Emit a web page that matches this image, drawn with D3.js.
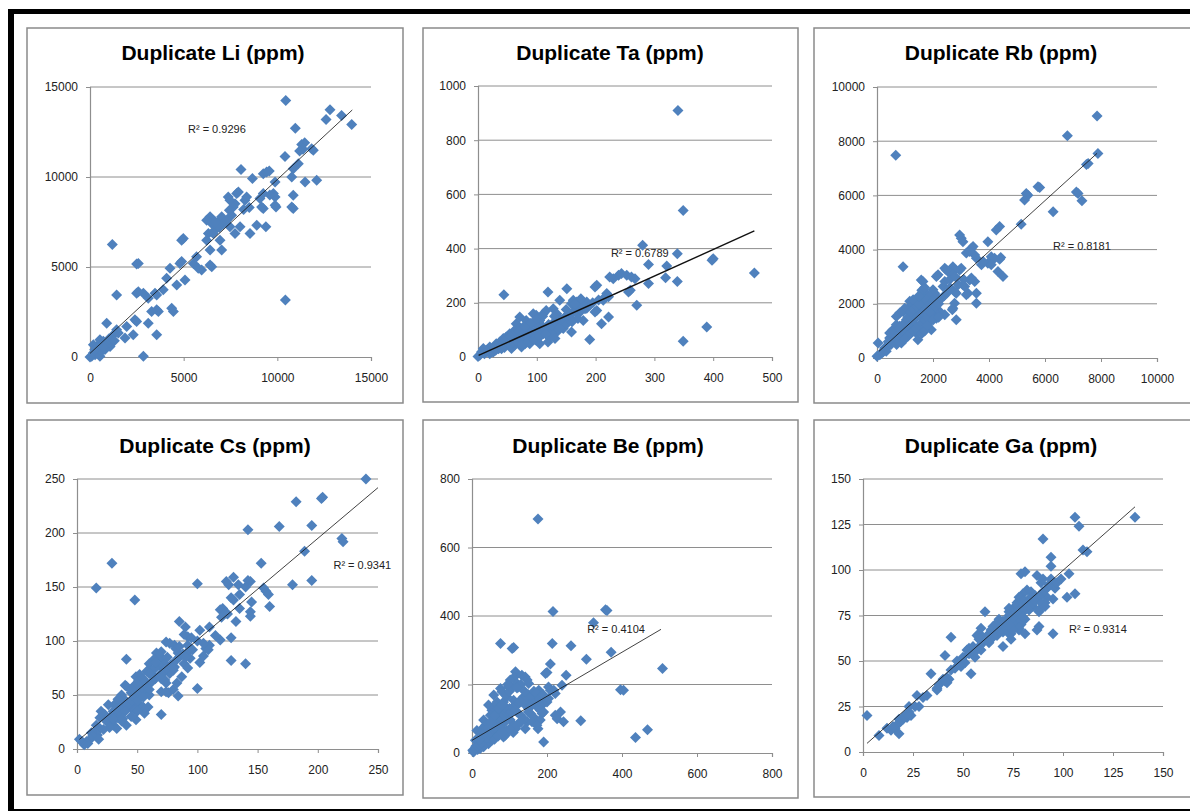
<!DOCTYPE html>
<html>
<head>
<meta charset="utf-8">
<script src="https://cdn.jsdelivr.net/npm/d3@7"></script>
<style>
  body { margin: 0; background: #fff; }
  svg { display: block; }
</style>
</head>
<body>
<div id="chart"></div>
<script>
// ---- data ----
const titles = ["Duplicate Li (ppm)", "Duplicate Ta (ppm)", "Duplicate Rb (ppm)",
                "Duplicate Cs (ppm)", "Duplicate Be (ppm)", "Duplicate Ga (ppm)"];
const r2Labels = ["R² = 0.9296", "R² = 0.6789", "R² = 0.8181", "R² = 0.9341", "R² = 0.4104", "R² = 0.9314"];

const liTicks = [0, 5000, 10000, 15000];
const taXTicks = [0, 100, 200, 300, 400, 500];
const taYTicks = [0, 200, 400, 600, 800, 1000];
const rbTicks = [0, 2000, 4000, 6000, 8000, 10000];
const csTicks = [0, 50, 100, 150, 200, 250];
const beTicks = [0, 200, 400, 600, 800];
const gaTicks = [0, 25, 50, 75, 100, 125, 150];

// trendline: [slope, intercept, xStart, xEnd]
const liTrend = [0.966, 200, 0, 14000];
const taTrend = [0.979, 5, 1, 470];
const rbTrend = [0.938, 180, 70, 7860];
const csTrend = [0.94, 7, 2, 250];
const beTrend = [0.643, 37, 0, 504];
const gaTrend = [0.97, 2.8, 2, 136];

// R² label anchors (data units)
const r2Pos = [[5230, 12610], [226, 380], [6286, 4096], [213, 169], [307, 359], [103, 67]];

const liPoints = [[10450,14250],[12810,13730],[13430,13410],[12600,13190],[13970,12920],[10960,12710],
 [11300,11800],[11460,11900],[11370,11540],[11190,11450],[11830,11570],[11920,11480],[10410,11140],
 [11120,10740],[10850,10460],[10770,10000],[8060,10410],[8670,9910],[9250,10180],[9430,10280],[9570,10330],
 [9880,9720],[11480,9720],[12100,9820],[10850,8990],[10850,8250],[10770,8340],[9790,9080],[9880,8890],
 [9250,9080],[9070,8800],[9250,8250],[9160,8340],[9930,8340],[9880,8430],[8900,7320],[9390,7230],[8540,6860],
 [8360,8890],[8270,8710],[7830,9080],[7920,9170],[7740,8520],[7650,8340],[7380,8890],[7470,8710],[7440,8150],
 [7560,7880],[8010,7230],[7740,6860],[7470,7230],[6940,7600],[7030,7790],[7120,7420],[6410,7790],[6580,7600],
 [6500,7420],[6230,7600],[6670,7050],[6320,6860],[6580,6860],[6940,6490],[7030,5940],[6230,6490],[6410,5940],
 [6500,5020],[6410,5110],[5960,4830],[5780,4930],[5520,5200],[5690,5570],[4980,6590],[4890,6490],[4890,5300],
 [4800,5200],[5070,4280],[4270,4930],[4630,4000],[4090,4370],[3910,3730],[4360,2710],[4450,2530],[3560,2620],
 [3650,2530],[3290,2530],[3470,3540],[3560,3450],[3110,3270],[2850,3540],[2490,3540],[2580,3630],[2490,5170],
 [2580,5200],[1420,3450],[1190,6250],[3110,1880],[3560,1240],[2850,40],[2310,1240],[2400,2070],[2490,1970],
 [1960,1700],[1870,1050],[890,1880],[1510,1330],[1420,1510],[1250,1240],[1160,960],[980,770],[1070,590],
 [710,870],[530,960],[620,680],[360,590],[180,680],[530,500],[440,220],[90,40],[270,130],[0,0],[180,220],
 [360,310],[890,680],[800,410],[530,40],[10430,3170],[600,300],[700,550],[1000,1000],[1300,900],[250,400],
 [6900,7200],[6700,7500],[7300,7600],[8200,8200],[8500,8300],[9600,9000]];

const taPoints = [[340,910],[349,541],[280,412],[339,381],[400,363],[398,357],[470,310],[290,341],[321,336],
 [339,279],[319,292],[290,271],[270,191],[389,111],[349,58],[239,302],[244,308],[253,302],[261,295],[267,289],
 [230,289],[224,295],[259,246],[256,240],[199,258],[202,265],[219,234],[222,222],[213,209],[222,148],[210,123],
 [202,172],[199,166],[119,240],[151,252],[44,230],[128,178],[139,209],[162,209],[168,203],[159,197],[173,197],
 [165,185],[185,203],[190,191],[182,178],[176,172],[170,160],[156,160],[151,154],[179,135],[170,142],[159,92],
 [190,65],[119,55],[122,74],[134,135],[139,123],[128,111],[134,92],[145,105],[105,135],[99,154],[94,160],
 [108,117],[97,123],[116,98],[111,86],[82,135],[88,123],[77,111],[91,98],[85,86],[65,123],[71,105],[62,98],
 [68,86],[60,74],[54,86],[48,74],[51,62],[43,68],[37,55],[31,49],[34,37],[26,31],[20,37],[14,25],[9,31],
 [6,18],[11,12],[3,6],[0,2],[20,12],[26,18],[74,37],[80,49],[94,74],[99,62],[105,49],[88,49],[57,31],[62,43],
 [111,160],[116,172],[71,148],[134,160],[125,86],[131,68],
 [30,25],[35,30],[40,45],[45,35],[50,50],[55,45],[60,55],[65,60],[70,70],[75,65],[80,80],[85,75],[90,90],
 [95,85],[100,100],[105,95],[110,110],[115,105],[120,120],[125,115],[130,130],[140,140],[145,135],[150,150],
 [155,145],[160,160],[165,170],[170,180],[175,175],[180,190],[185,180],[195,200],[205,210],[215,220],[60,80],
 [70,95],[80,110],[90,125],[100,140],[110,150],[75,45],[85,55],[95,65],[105,75],[115,85],[45,60],[55,75],
 [40,30],[30,40],[25,20],[140,110],[150,120],[160,130],[165,195],[175,215],[150,175],[130,150]];

const rbPoints = [[7860,8930],[6800,8200],[670,7480],[7890,7550],[7540,7180],[7480,7140],[7120,6130],
 [7180,6070],[7320,5800],[6290,5400],[5750,6320],[5810,6290],[5330,6070],[5390,6010],[5270,5830],[5150,4940],
 [4380,4850],[4260,4720],[4420,3710],[4380,3640],[4080,3740],[4200,3680],[3960,4290],[4500,3010],[4320,3190],
 [3960,3500],[4080,3440],[3730,3440],[3790,3560],[3550,3680],[3490,3800],[3370,4050],[3430,4110],[3190,3870],
 [3310,3930],[2950,4540],[3010,4420],[3070,4290],[3550,2390],[3490,2820],[3550,2020],[3250,2390],[3190,2330],
 [3310,2880],[3370,2950],[3070,2700],[3130,2640],[2950,3250],[3010,3310],[2710,3370],[2770,3250],[2540,3190],
 [2650,3130],[2420,3310],[2480,3250],[2120,3010],[2180,3070],[2360,2640],[2420,2820],[2770,2450],[2830,2390],
 [2770,2020],[2710,1840],[2690,1780],[2830,1410],[2420,1600],[930,3370],[1580,2880],[1640,2820],[1640,2450],
 [2000,2520],[2060,2390],[1760,2390],[1880,2270],[2120,2270],[2180,2150],[1400,2150],[1520,2090],[1290,2020],
 [1760,2020],[1880,1900],[2000,1840],[2120,1780],[2240,1720],[2180,1600],[1640,1780],[1520,1720],[1400,1600],
 [1580,1530],[1170,1900],[1050,1780],[930,1720],[990,1840],[810,1660],[690,1530],[1760,1410],[1880,1350],
 [1940,1040],[1640,1230],[1760,1100],[1580,980],[1290,1410],[1170,1290],[1350,1230],[1230,1100],[1400,920],
 [1460,670],[1050,1040],[930,920],[810,800],[990,740],[690,920],[570,800],[450,740],[630,610],[870,550],
 [810,1170],[510,550],[390,430],[270,370],[330,250],[150,180],[100,120],[0,60],[40,550],[450,920],[570,1040],
 [690,1230],[930,1230],[1050,1410],[1170,2090],[1290,2150],[1640,2210],[1760,2150],[2000,1600],[2120,1470],
 [1880,1660],
 [600,700],[700,800],[800,900],[900,1000],[1000,1100],[1100,1200],[1200,1300],[1300,1400],[1400,1500],
 [1500,1600],[1600,1700],[1700,1800],[1800,1900],[1900,2000],[2000,2100],[1100,1500],[1200,1700],[1300,1800],
 [1400,1900],[1500,2000],[1000,1300],[900,1200],[800,1100],[1200,900],[1300,1000],[1400,1100],[1500,1200],
 [1600,1300],[1700,1400],[1800,1500],[1900,1700],[2100,1900],[2200,2000],[2300,2200],[2400,2300],[2500,2400],
 [2600,2600],[1600,2500],[1700,2600],[1500,2300],[1100,800],[1000,700],[700,500],[500,500],[400,600],
 [300,300],[200,200],[1600,900],[1700,1000],[1800,1200],[2000,1400],[2200,1500],[2600,2900],[2800,3000],
 [2900,2700],[3100,2900]];

const csPoints = [[240,250],[182,229],[203,232],[204,233],[142,203],[168,206],[195,207],[220,195],[221,192],
 [189,183],[153,172],[29,172],[16,149],[48,138],[100,153],[179,152],[195,156],[142,156],[144,155],[130,159],
 [126,152],[124,155],[134,152],[135,143],[128,140],[145,136],[144,127],[155,149],[157,146],[159,143],[160,132],
 [144,123],[119,129],[121,130],[124,126],[132,118],[110,113],[102,110],[85,118],[90,113],[119,101],[128,103],
 [128,82],[140,79],[102,80],[100,56],[107,93],[110,96],[109,92],[92,104],[95,103],[89,106],[74,99],[77,98],
 [81,96],[91,89],[94,84],[89,79],[92,75],[82,93],[84,89],[87,67],[84,49],[80,73],[81,76],[77,70],[71,83],
 [73,79],[70,76],[66,89],[69,86],[64,83],[67,78],[60,79],[62,73],[58,72],[64,67],[71,70],[73,64],[74,61],
 [70,53],[76,52],[74,53],[70,32],[55,64],[58,61],[53,59],[49,67],[52,69],[51,63],[47,58],[49,55],[45,52],
 [51,49],[55,52],[59,55],[60,50],[40,59],[41,58],[41,83],[37,50],[38,47],[34,46],[41,44],[52,41],[55,39],
 [59,39],[56,36],[47,42],[49,44],[45,38],[48,36],[49,27],[41,22],[31,41],[33,38],[30,35],[35,32],[34,29],
 [31,27],[37,26],[30,22],[33,19],[26,41],[20,35],[23,32],[24,27],[19,29],[16,22],[19,19],[15,16],[17,13],
 [12,15],[13,12],[11,9],[8,7],[9,5],[6,4],[4,7],[2,9],[18,9],[56,33],[83,61],[80,55],[105,86],[130,138],
 [25,25],[28,30],[35,35],[38,40],[42,40],[45,45],[48,50],[52,52],[55,55],[58,58],[62,62],[65,65],[68,68],
 [72,72],[75,75],[78,78],[82,82],[85,85],[88,88],[30,28],[40,35],[50,45],[60,55],[70,65],[80,75],[90,85],
 [35,45],[45,55],[55,65],[65,75],[75,85],[85,95],[60,70],[65,80],[70,90],[50,35],[55,48],[45,30],[38,28],
 [27,20],[22,18],[100,100],[105,98],[115,105],[120,122],[125,125],[135,130],[140,150],[96,92],[92,96]];

const bePoints = [[176,683],[216,413],[356,418],[360,416],[324,380],[371,294],[508,247],[305,274],[264,313],
 [214,320],[76,320],[107,305],[111,308],[209,260],[200,235],[196,232],[251,227],[240,198],[396,185],[404,183],
 [116,237],[113,222],[133,227],[142,222],[147,213],[151,203],[120,203],[124,193],[102,213],[98,193],[76,188],
 [80,179],[58,169],[44,140],[204,193],[209,183],[178,183],[182,174],[164,174],[173,164],[156,154],[147,149],
 [138,164],[129,154],[191,149],[187,140],[111,154],[116,140],[107,130],[120,120],[93,164],[84,149],[89,135],
 [67,149],[62,140],[76,135],[71,120],[53,125],[49,110],[58,100],[31,96],[36,81],[27,71],[13,66],[22,57],
 [18,42],[9,37],[2,8],[4,3],[40,57],[49,47],[36,37],[44,27],[31,18],[22,13],[76,96],[84,86],[80,71],[93,66],
 [89,52],[62,71],[67,61],[58,52],[53,37],[102,96],[111,81],[116,71],[124,86],[84,47],[129,110],[138,100],
 [147,91],[142,71],[156,115],[164,105],[160,91],[173,135],[182,125],[142,140],[151,130],[191,120],[187,115],
 [222,110],[227,100],[236,120],[244,91],[290,94],[176,71],[191,32],[436,45],[468,68],[200,149],[204,159],
 [182,96],[173,81],[98,110],[89,105],[218,183],[222,174],[10,20],[15,10],
 [5,5],[10,15],[15,20],[20,25],[25,30],[30,40],[35,45],[40,45],[45,55],[50,60],[55,70],[60,75],[65,85],
 [70,90],[75,95],[80,100],[85,110],[90,120],[95,125],[100,130],[105,120],[110,135],[115,125],[120,140],
 [125,145],[130,150],[135,160],[140,155],[145,165],[150,170],[160,165],[165,180],[170,175],[60,110],[70,130],
 [80,140],[90,170],[100,180],[105,190],[95,200],[130,200],[120,190],[140,180],[150,120],[160,140],[170,150],
 [180,160],[190,170],[110,60],[120,80],[130,90],[100,70],[60,40],[70,50],[80,60],[40,70],[50,90],[30,55],[20,40]];

const gaPoints = [[136,129],[106,129],[108,124],[110,111],[112,110],[90,117],[94,107],[94,102],[79,98],
 [81,99],[87,97],[99,95],[103,98],[106,87],[102,85],[95,84],[96,90],[92,85],[91,82],[89,93],[90,95],[95,65],
 [84,88],[86,86],[83,84],[82,89],[80,87],[79,85],[85,80],[83,78],[78,83],[77,82],[76,80],[80,77],[78,75],
 [81,73],[78,67],[79,70],[75,73],[74,71],[73,65],[73,77],[73,75],[71,72],[68,73],[67,71],[68,69],[65,69],
 [64,67],[63,65],[70,58],[74,62],[61,77],[59,68],[58,65],[60,63],[57,64],[58,62],[59,56],[56,52],[53,57],
 [52,56],[50,52],[51,49],[49,47],[54,43],[47,50],[44,63],[41,53],[42,41],[43,40],[41,39],[34,43],[37,34],
 [37,35],[32,31],[30,30],[27,31],[28,25],[23,22],[24,20],[22,19],[23,25],[20,19],[19,17],[17,15],[16,13],
 [14,12],[12,13],[18,10],[8,9],[2,20],[21,20],[18,18],[87,67],[88,69],[88,77],[88,78],[81,65],[74,65],
 [73,67],[72,67],[73,79],[78,85],[80,83],
 [60,60],[62,63],[64,62],[66,66],[67,64],[69,68],[70,66],[71,70],[72,70],[74,74],[75,70],[76,76],[77,74],
 [78,78],[79,76],[80,80],[81,78],[82,82],[83,80],[84,84],[85,82],[76,72],[77,70],[79,72],[80,74],[78,68],
 [75,67],[73,70],[70,72],[68,66],[65,64],[63,60],[58,58],[56,55],[55,58],[53,54],[50,50],[48,48],[46,46],
 [44,45],[90,88],[92,90],[93,92],[94,95],[97,93],[88,85],[86,83],[89,82],[91,80],[20,18],[18,16],[22,21],
 [26,25],[38,37],[40,40],[42,38],[15,14]];

// ---- layout ----
const W = 1190, H = 811;
const svg = d3.select('#chart').append('svg').attr('width', W).attr('height', H);

const panels = [
  { box: [27, 28, 403, 403], plot: [90, 87, 371, 357], title: [213, 54], pts: liPoints, xt: liTicks, yt: liTicks, trend: liTrend, tw: 0.8 },
  { box: [423, 28, 798, 402], plot: [478, 86, 772, 357], title: [610, 54], pts: taPoints, xt: taXTicks, yt: taYTicks, trend: taTrend, tw: 1.4 },
  { box: [814, 28, 1193, 403], plot: [877, 87, 1157, 358], title: [1001, 54], pts: rbPoints, xt: rbTicks, yt: rbTicks, trend: rbTrend, tw: 0.8 },
  { box: [27, 420, 403, 795], plot: [77, 479, 378, 749], title: [215, 447], pts: csPoints, xt: csTicks, yt: csTicks, trend: csTrend, tw: 0.8 },
  { box: [423, 420, 798, 798], plot: [472, 479, 772, 753], title: [608, 447], pts: bePoints, xt: beTicks, yt: beTicks, trend: beTrend, tw: 0.8 },
  { box: [814, 420, 1193, 797], plot: [863, 479, 1163, 752], title: [1001, 447], pts: gaPoints, xt: gaTicks, yt: gaTicks, trend: gaTrend, tw: 0.8 }
];

const gridColor = '#8e8e8e';
const blue = '#4f81bd';
const diamond = 'M0,-5.5L5.5,0L0,5.5L-5.5,0Z';

panels.forEach((p, i) => {
  const g = svg.append('g');
  const [bx0, by0, bx1, by1] = p.box;
  g.append('rect')
    .attr('x', bx0).attr('y', by0)
    .attr('width', bx1 - bx0).attr('height', by1 - by0)
    .attr('fill', '#fff').attr('stroke', '#8a8a8a').attr('stroke-width', 1.5);

  const [px0, py0, px1, py1] = p.plot;
  const x = d3.scaleLinear().domain(d3.extent(p.xt)).range([px0, px1]);
  const y = d3.scaleLinear().domain(d3.extent(p.yt)).range([py1, py0]);

  // horizontal gridlines
  g.append('g').selectAll('line').data(p.yt.slice(1)).join('line')
    .attr('x1', px0).attr('x2', px1)
    .attr('y1', d => y(d)).attr('y2', d => y(d))
    .attr('stroke', gridColor).attr('stroke-width', 1);

  // axes
  const xAxis = d3.axisBottom(x).tickValues(p.xt).tickSize(4).tickPadding(12).tickFormat(d3.format('d'));
  const yAxis = d3.axisLeft(y).tickValues(p.yt).tickSize(4).tickPadding(8).tickFormat(d3.format('d'));
  const gx = g.append('g').attr('transform', `translate(0,${py1})`).call(xAxis);
  const gy = g.append('g').attr('transform', `translate(${px0},0)`).call(yAxis);
  [gx, gy].forEach(a => {
    a.select('.domain').attr('stroke', gridColor).attr('stroke-width', 1.2);
    a.selectAll('.tick line').attr('stroke', gridColor).attr('stroke-width', 1);
    a.selectAll('.tick text')
      .attr('fill', '#222')
      .style('font-family', '"Liberation Sans", Arial, sans-serif')
      .style('font-size', '12px');
  });

  // points
  g.append('g').selectAll('path').data(p.pts).join('path')
    .attr('d', diamond)
    .attr('transform', d => `translate(${x(d[0])},${y(d[1])})`)
    .attr('fill', blue);

  // trendline
  const [m, b, t0, t1] = p.trend;
  g.append('line')
    .attr('x1', x(t0)).attr('y1', y(m * t0 + b))
    .attr('x2', x(t1)).attr('y2', y(m * t1 + b))
    .attr('stroke', '#111').attr('stroke-width', p.tw);

  // R² label
  g.append('text')
    .attr('x', x(r2Pos[i][0])).attr('y', y(r2Pos[i][1]))
    .attr('dominant-baseline', 'middle')
    .attr('fill', '#222')
    .style('font-family', '"Liberation Sans", Arial, sans-serif')
    .style('font-size', '11px')
    .text(r2Labels[i]);

  // title
  g.append('text')
    .attr('x', p.title[0]).attr('y', p.title[1])
    .attr('text-anchor', 'middle').attr('dominant-baseline', 'middle')
    .attr('fill', '#000')
    .style('font-family', '"Liberation Sans", Arial, sans-serif')
    .style('font-weight', 'bold')
    .style('font-size', '21px')
    .text(titles[i]);
});

// outer black frame
svg.append('line').attr('x1', 8).attr('x2', W).attr('y1', 11.5).attr('y2', 11.5)
  .attr('stroke', '#000').attr('stroke-width', 5);
svg.append('line').attr('x1', 11).attr('x2', 11).attr('y1', 9).attr('y2', H)
  .attr('stroke', '#000').attr('stroke-width', 6);
svg.append('line').attr('x1', 8).attr('x2', W).attr('y1', 810).attr('y2', 810)
  .attr('stroke', '#000').attr('stroke-width', 2);
</script>
</body>
</html>
